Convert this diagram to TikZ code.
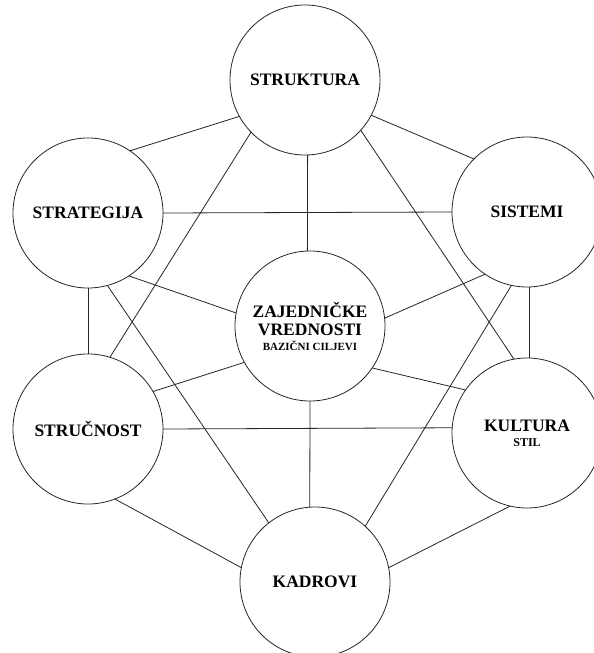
\documentclass[tikz,border=0pt]{standalone}
\usepackage{fontspec}
\setmainfont{Liberation Serif}
\usetikzlibrary{positioning}

\begin{document}
\begin{tikzpicture}[
  x=1pt, y=-1pt,
  factor/.style={circle, draw=black!85, line width=0.8pt, minimum size=150pt,
    inner sep=0pt, outer sep=0pt, align=center,
    font=\bfseries\fontsize{17.5}{18}\selectfont},
  link/.style={draw=black!85, line width=0.8pt},
]

% frame of the page
\useasboundingbox (0,0) rectangle (594,653);
\fill[white] (0,0) rectangle (594,653);
\clip (0,0) rectangle (594,653);

% ---------- the seven factors ----------
\node[factor] (struktura)  at (305,80)  {STRUKTURA};
\node[factor] (strategija) at (88,213)  {STRATEGIJA};
\node[factor] (sistemi)    at (527,212) {SISTEMI};
\node[factor] (vrednosti)  at (310,326)
  {ZAJEDNIČKE\\VREDNOSTI\\[-3pt]{\fontsize{11}{13}\selectfont BAZIČNI CILJEVI}};
\node[factor] (strucnost)  at (88,429)  {STRUČNOST};
\node[factor] (kultura)    at (527,433)
  {KULTURA\\[-3pt]{\fontsize{12}{13}\selectfont STIL}};
\node[factor] (kadrovi)    at (315,582) {KADROVI};

% ---------- links between factors ----------
\foreach \a/\b in {strategija.56/struktura.209, struktura.332/sistemi.135,
    struktura.-88/vrednosti.92, struktura.224/strucnost.73,
    struktura.318/kultura.100, strategija.east/sistemi.west,
    strategija.south/strucnost.north, strategija.303/vrednosti.170,
    strategija.285/kadrovi.128, sistemi.236/vrednosti.6,
    sistemi.-88/kultura.88, sistemi.258/kadrovi.48,
    strucnost.30/vrednosti.209, strucnost.east/kultura.176,
    strucnost.291/kadrovi.169, kultura.145/vrednosti.326,
    kultura.257/kadrovi.11, vrednosti.south/kadrovi.94}
  \draw[link] (\a) -- (\b);

\end{tikzpicture}
\end{document}
